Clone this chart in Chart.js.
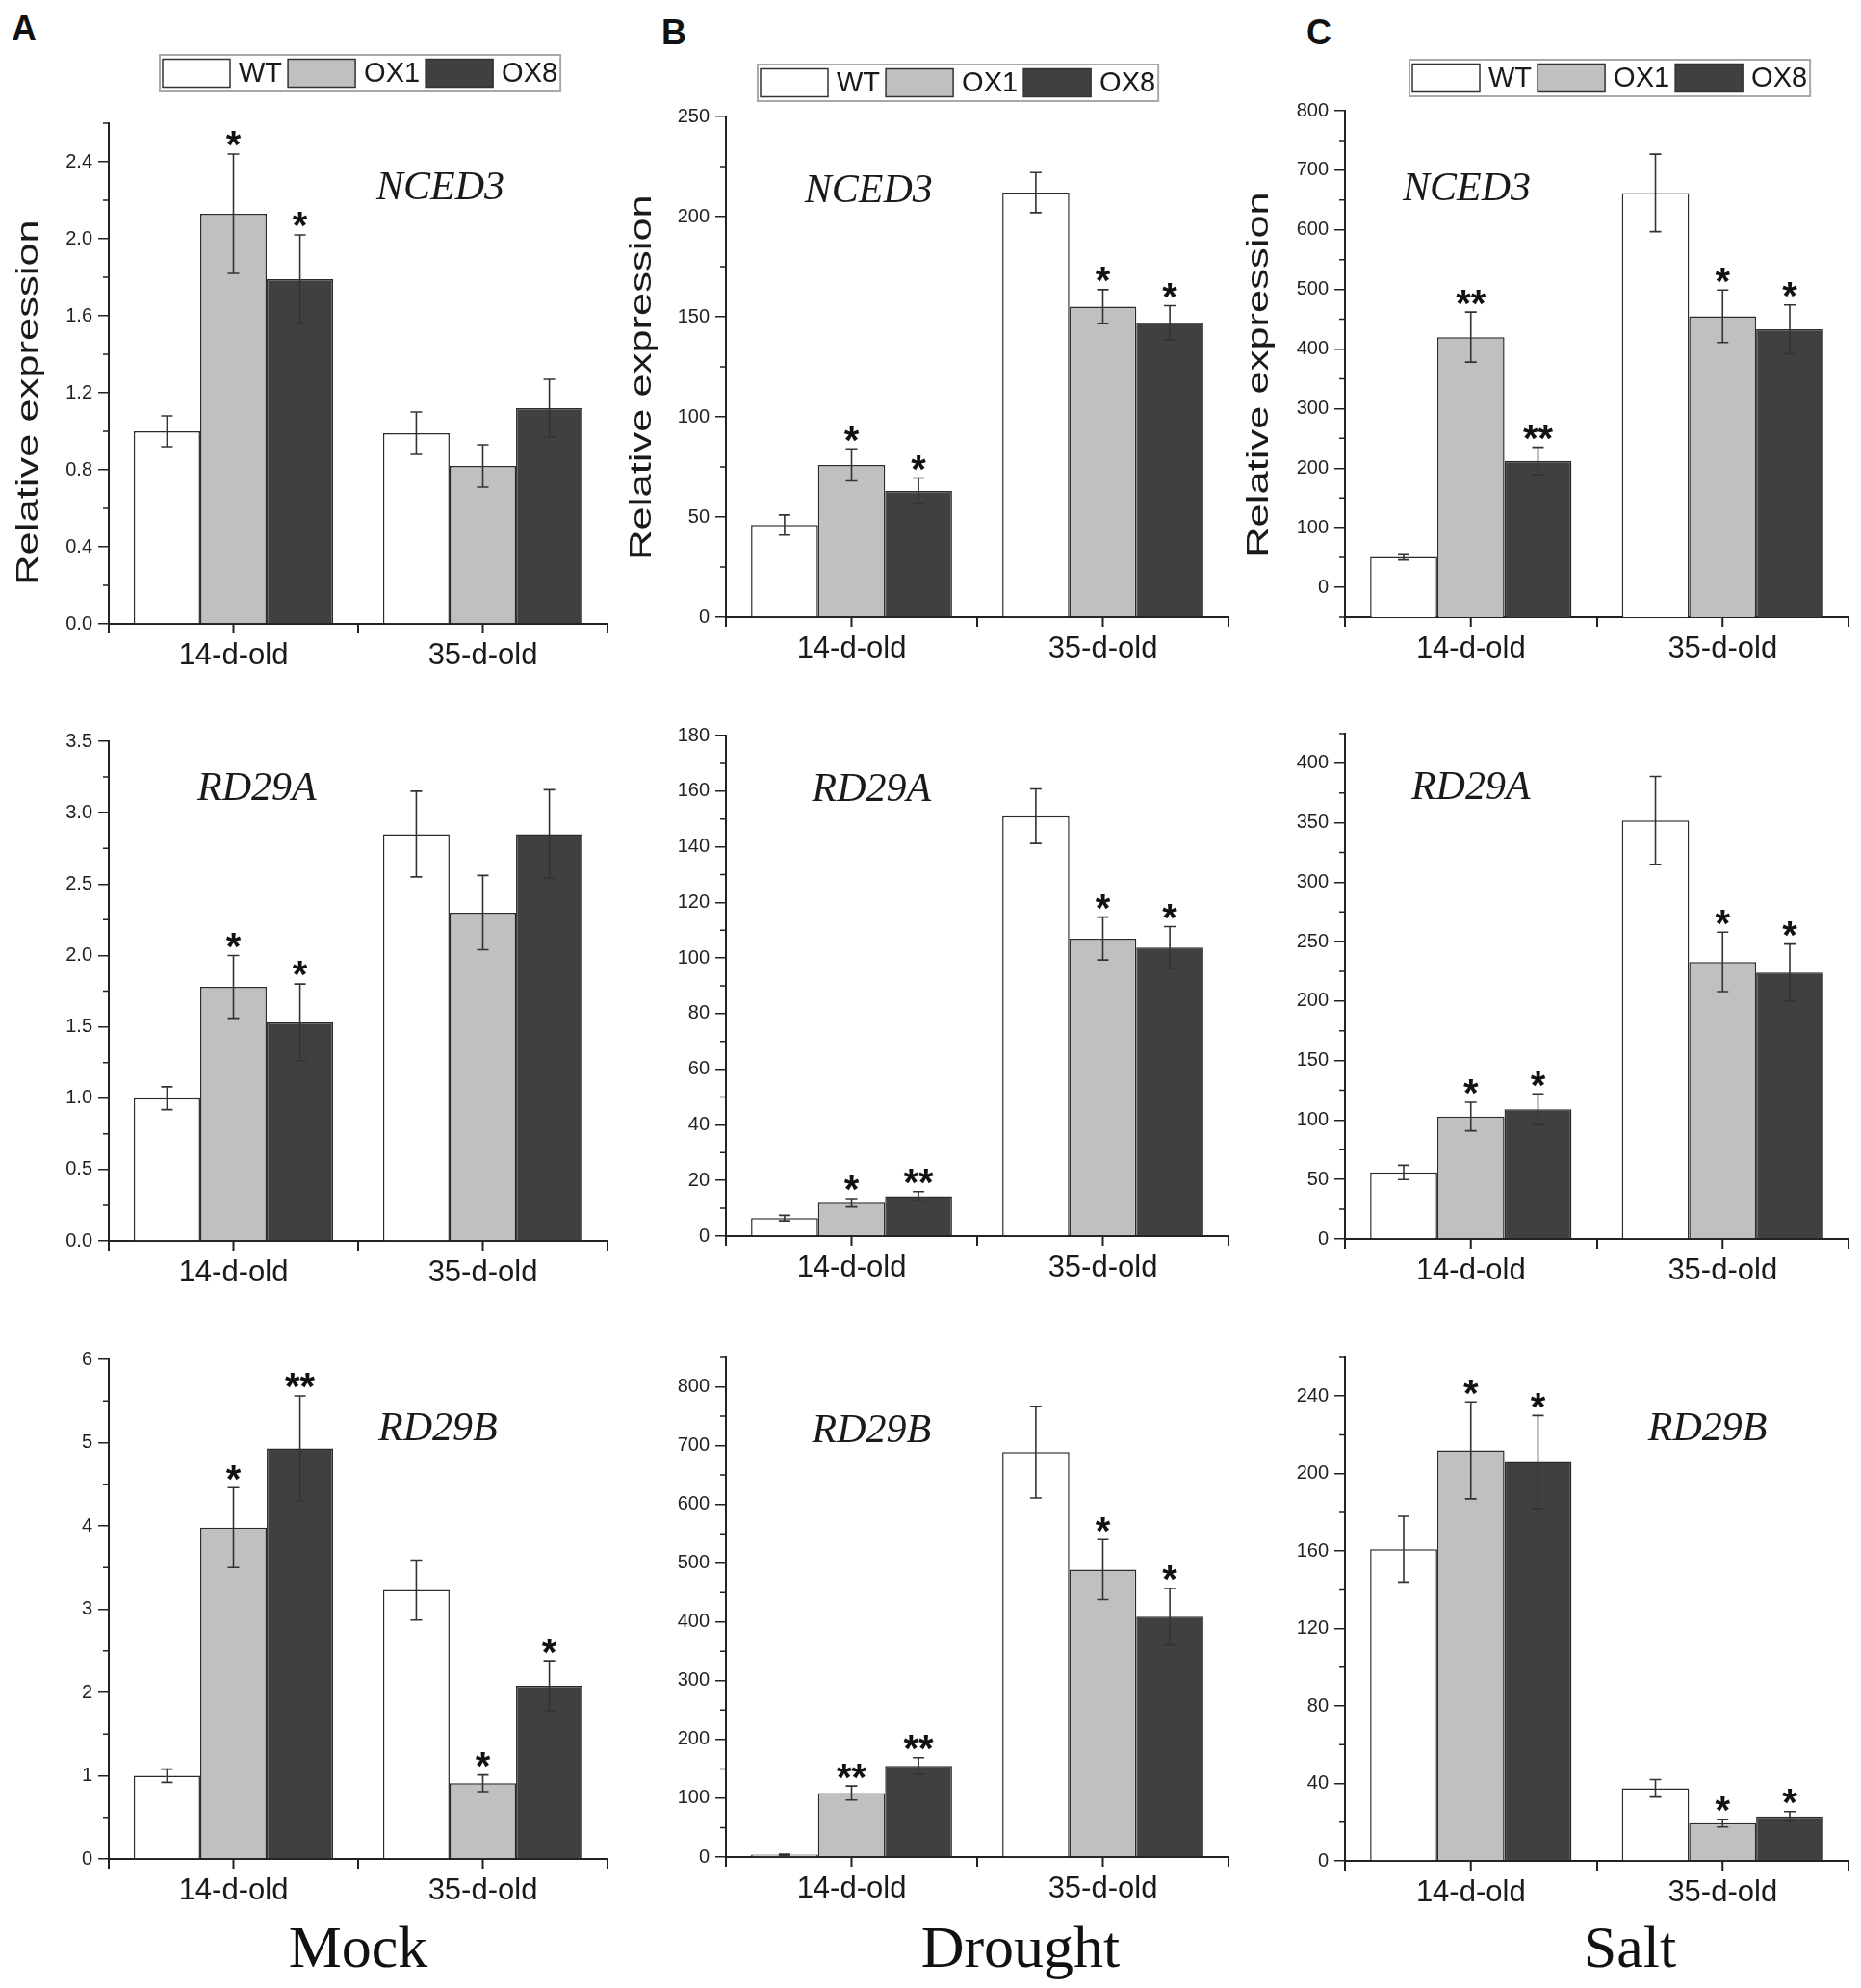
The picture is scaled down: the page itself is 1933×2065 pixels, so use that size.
<!DOCTYPE html>
<html>
<head>
<meta charset="utf-8">
<script src="https://cdn.jsdelivr.net/npm/chart.js@4.4.0/dist/chart.umd.min.js"></script>
<style>
  html, body { margin: 0; padding: 0; background: #fff; }
  #page { position: relative; width: 1933px; height: 2065px; background: #fff; overflow: hidden; }
  canvas { position: absolute; }
  .letter { position: absolute; font: bold 36px "Liberation Sans", Arial, sans-serif; line-height: 1; color: #111; }
  .cond { position: absolute; font: 62px "Liberation Serif", "Times New Roman", serif; line-height: 1; color: #111; transform: translateX(-50%); white-space: nowrap; }
</style>
</head>
<body>
<div id="page">
  <div class="letter" style="left:12px;top:12px">A</div>
  <div class="letter" style="left:687px;top:16px">B</div>
  <div class="letter" style="left:1357px;top:16px">C</div>
  <div class="cond" style="left:372px;top:1991px">Mock</div>
  <div class="cond" style="left:1060px;top:1991px">Drought</div>
  <div class="cond" style="left:1693px;top:1991px">Salt</div>
</div>
<script>
// categories and genotypes shared by all panels
const categories = ['14-d-old', '35-d-old'];
const genotypes = ['WT', 'OX1', 'OX8'];

// values per genotype: [14-d-old, 35-d-old]
// Mock
const mockNced3Mean = [[1.00, 0.99], [2.13, 0.82], [1.79, 1.12]];
const mockNced3Err  = [[0.08, 0.11], [0.31, 0.11], [0.23, 0.15]];
const mockNced3Sig  = [['', ''], ['*', ''], ['*', '']];
const mockNced3Ticks = ['0.0', '0.4', '0.8', '1.2', '1.6', '2.0', '2.4'];

const mockRd29aMean = [[1.00, 2.85], [1.78, 2.30], [1.53, 2.85]];
const mockRd29aErr  = [[0.08, 0.30], [0.22, 0.26], [0.27, 0.31]];
const mockRd29aSig  = [['', ''], ['*', ''], ['*', '']];
const mockRd29aTicks = ['0.0', '0.5', '1.0', '1.5', '2.0', '2.5', '3.0', '3.5'];

const mockRd29bMean = [[1.00, 3.23], [3.98, 0.91], [4.93, 2.08]];
const mockRd29bErr  = [[0.08, 0.36], [0.48, 0.10], [0.63, 0.30]];
const mockRd29bSig  = [['', ''], ['*', '*'], ['**', '*']];
const mockRd29bTicks = ['0', '1', '2', '3', '4', '5', '6'];

// Drought
const droughtNced3Mean = [[46, 212], [76, 155], [63, 147]];
const droughtNced3Err  = [[5, 10], [8, 8.5], [6.5, 8.5]];
const droughtNced3Sig  = [['', ''], ['*', '*'], ['*', '*']];
const droughtNced3Ticks = ['0', '50', '100', '150', '200', '250'];

const droughtRd29aMean = [[6.5, 151], [12, 107], [14.4, 103.8]];
const droughtRd29aErr  = [[1, 9.8], [1.5, 7.7], [1.6, 7.5]];
const droughtRd29aSig  = [['', ''], ['*', '*'], ['**', '*']];
const droughtRd29aTicks = ['0', '20', '40', '60', '80', '100', '120', '140', '160', '180'];

const droughtRd29bMean = [[4, 689], [109, 489], [155, 409]];
const droughtRd29bErr  = [[1, 78], [12, 51], [14, 48]];
const droughtRd29bSig  = [['', ''], ['**', '*'], ['**', '*']];
const droughtRd29bTicks = ['0', '100', '200', '300', '400', '500', '600', '700', '800'];

// Salt
const saltNced3Mean = [[51, 662], [420, 455], [212, 433]];
const saltNced3Err  = [[5, 65], [42, 44], [23, 41]];
const saltNced3Sig  = [['', ''], ['**', '*'], ['**', '*']];
const saltNced3Ticks = ['0', '100', '200', '300', '400', '500', '600', '700', '800'];

const saltRd29aMean = [[56, 352], [103, 233], [109, 224]];
const saltRd29aErr  = [[6, 37], [12, 25], [13, 24]];
const saltRd29aSig  = [['', ''], ['*', '*'], ['*', '*']];
const saltRd29aTicks = ['0', '50', '100', '150', '200', '250', '300', '350', '400'];

const saltRd29bMean = [[161, 37.5], [212, 19.5], [206, 23]];
const saltRd29bErr  = [[17, 4.5], [25, 2], [24, 2.5]];
const saltRd29bSig  = [['', ''], ['*', '*'], ['*', '*']];
const saltRd29bTicks = ['0', '40', '80', '120', '160', '200', '240'];

// panel layout: chart area in page px, axis range, label spots
const panels = [
  { gene: 'NCED3', mean: mockNced3Mean, err: mockNced3Err, sig: mockNced3Sig, ticks: mockNced3Ticks, range: [0, 2.6],
    area: [113, 128, 631, 648], legend: [166, 57], title: [30, 418], genePos: [0.665, 0.13] },
  { gene: 'RD29A', mean: mockRd29aMean, err: mockRd29aErr, sig: mockRd29aSig, ticks: mockRd29aTicks, range: [0, 3.5],
    area: [113, 770, 631, 1289], genePos: [0.297, 0.097] },
  { gene: 'RD29B', mean: mockRd29bMean, err: mockRd29bErr, sig: mockRd29bSig, ticks: mockRd29bTicks, range: [0, 6],
    area: [113, 1412, 631, 1931], genePos: [0.66, 0.14] },
  { gene: 'NCED3', mean: droughtNced3Mean, err: droughtNced3Err, sig: droughtNced3Sig, ticks: droughtNced3Ticks, range: [0, 250],
    area: [754, 121, 1276, 641], legend: [787, 67], title: [667, 392], genePos: [0.284, 0.15] },
  { gene: 'RD29A', mean: droughtRd29aMean, err: droughtRd29aErr, sig: droughtRd29aSig, ticks: droughtRd29aTicks, range: [0, 180],
    area: [754, 764, 1276, 1284], genePos: [0.29, 0.11] },
  { gene: 'RD29B', mean: droughtRd29bMean, err: droughtRd29bErr, sig: droughtRd29bSig, ticks: droughtRd29bTicks, range: [0, 850],
    area: [754, 1410, 1276, 1929], genePos: [0.29, 0.148] },
  { gene: 'NCED3', mean: saltNced3Mean, err: saltNced3Err, sig: saltNced3Sig, ticks: saltNced3Ticks, range: [-50, 800],
    area: [1397, 115, 1920, 641], legend: [1464, 62], title: [1308, 389], genePos: [0.242, 0.156] },
  { gene: 'RD29A', mean: saltRd29aMean, err: saltRd29aErr, sig: saltRd29aSig, ticks: saltRd29aTicks, range: [0, 425],
    area: [1397, 762, 1920, 1287], genePos: [0.25, 0.108] },
  { gene: 'RD29B', mean: saltRd29bMean, err: saltRd29bErr, sig: saltRd29bSig, ticks: saltRd29bTicks, range: [0, 260],
    area: [1397, 1410, 1920, 1933], genePos: [0.72, 0.144] }
];

const SANS = '"Liberation Sans", Arial, sans-serif';
const SERIF = '"Liberation Serif", "Times New Roman", serif';
const barColors = ['#ffffff', '#c0c0c0', '#404040'];
const margin = { left: 113, top: 110, right: 12, bottom: 70 };

Chart.defaults.font.family = SANS;
Chart.defaults.color = '#222';

// error bars, stars, minor ticks, gene names, legend box and y title
const extras = {
  id: 'extras',
  afterDatasetsDraw(chart, args, o) {
    const p = o.panel;
    const ctx = chart.ctx;
    const xs = chart.scales.x, ys = chart.scales.y;
    const ca = chart.chartArea;
    ctx.save();

    chart.data.datasets.forEach((ds, i) => {
      chart.getDatasetMeta(i).data.forEach((bar, j) => {
        const hi = ys.getPixelForValue(ds.data[j] + ds.err[j]);
        const lo = ys.getPixelForValue(ds.data[j] - ds.err[j]);
        ctx.strokeStyle = '#333';
        ctx.lineWidth = 1.6;
        ctx.beginPath();
        ctx.moveTo(bar.x, hi); ctx.lineTo(bar.x, lo);
        ctx.moveTo(bar.x - 6, hi); ctx.lineTo(bar.x + 6, hi);
        ctx.moveTo(bar.x - 6, lo); ctx.lineTo(bar.x + 6, lo);
        ctx.stroke();
        if (ds.sig[j]) {
          ctx.font = 'bold 40px ' + SANS;
          ctx.fillStyle = '#111';
          ctx.textAlign = 'center';
          ctx.textBaseline = 'alphabetic';
          ctx.fillText(ds.sig[j], bar.x, hi - 12 + 0.41 * 40);
        }
      });
    });

    // minor ticks halfway between the labelled ones
    const vals = p.ticks.map(Number);
    const half = (vals[1] - vals[0]) / 2;
    const minors = vals.map(v => v - half).concat([vals[vals.length - 1] + half])
      .filter(v => v >= p.range[0] - 1e-9 && v <= p.range[1] + 1e-9);
    ctx.strokeStyle = '#222';
    ctx.lineWidth = 1.5;
    ctx.beginPath();
    minors.forEach(v => {
      const y = ys.getPixelForValue(v);
      ctx.moveTo(ca.left, y); ctx.lineTo(ca.left - 6, y);
    });
    ctx.stroke();

    // ticks under each category centre
    ctx.lineWidth = 2;
    ctx.beginPath();
    categories.forEach((c, i) => {
      const x = xs.getPixelForValue(i);
      ctx.moveTo(x, ca.bottom); ctx.lineTo(x, ca.bottom + 10);
    });
    ctx.stroke();

    // gene name
    ctx.font = 'italic 42px ' + SERIF;
    ctx.fillStyle = '#1a1a1a';
    ctx.textAlign = 'center';
    ctx.textBaseline = 'middle';
    ctx.fillText(p.gene, ca.left + p.genePos[0] * ca.width, ca.top + p.genePos[1] * ca.height);

    // legend box (top row only)
    if (p.legend) {
      const lx = p.legend[0] - o.offX, ly = p.legend[1] - o.offY, lh = 38;
      ctx.font = '29px ' + SANS;
      const widths = chart.data.datasets.map(ds => ctx.measureText(ds.label).width);
      const total = 6 + widths.reduce((a, b) => a + b, 0) + 3 * 79 + 2 * 6;
      ctx.fillStyle = '#fff';
      ctx.fillRect(lx, ly, total, lh);
      ctx.strokeStyle = '#a8a8a8';
      ctx.lineWidth = 2;
      ctx.strokeRect(lx, ly, total, lh);
      let x = lx + 3;
      chart.data.datasets.forEach((ds, i) => {
        ctx.fillStyle = ds.backgroundColor;
        ctx.fillRect(x, ly + 4.5, 70, 29);
        ctx.strokeStyle = '#333';
        ctx.lineWidth = 1.5;
        ctx.strokeRect(x, ly + 4.5, 70, 29);
        ctx.fillStyle = '#1a1a1a';
        ctx.textAlign = 'left';
        ctx.textBaseline = 'middle';
        ctx.fillText(ds.label, x + 79, ly + lh / 2 + 1);
        x += 79 + widths[i] + 6;
      });
    }

    // y axis title, drawn narrow and long like the original
    if (p.title) {
      ctx.translate(p.title[0] - o.offX, p.title[1] - o.offY);
      ctx.rotate(-Math.PI / 2);
      ctx.scale(1.45, 1.05);
      ctx.font = '30px ' + SANS;
      ctx.fillStyle = '#1a1a1a';
      ctx.textAlign = 'center';
      ctx.textBaseline = 'middle';
      ctx.fillText('Relative expression', 0, 0);
    }
    ctx.restore();
  }
};

const page = document.getElementById('page');

panels.forEach(p => {
  const [l, t, r, b] = p.area;
  const w = r - l + margin.left + margin.right;
  const h = b - t + margin.top + margin.bottom;
  const offX = l - margin.left, offY = t - margin.top;
  const cv = document.createElement('canvas');
  cv.width = w; cv.height = h;
  cv.style.left = offX + 'px';
  cv.style.top = offY + 'px';
  cv.style.width = w + 'px';
  cv.style.height = h + 'px';
  page.appendChild(cv);
  const tickVals = p.ticks.map(Number);

  new Chart(cv, {
    type: 'bar',
    data: {
      labels: categories,
      datasets: genotypes.map((g, i) => ({
        label: g,
        data: p.mean[i],
        err: p.err[i],
        sig: p.sig[i],
        base: p.range[0],
        backgroundColor: barColors[i],
        borderColor: '#2b2b2b',
        borderWidth: 1.5,
        barPercentage: 1,
        categoryPercentage: 0.8
      }))
    },
    options: {
      responsive: false,
      animation: false,
      devicePixelRatio: 1,
      layout: { padding: { left: margin.left - 90, right: margin.right, top: margin.top, bottom: margin.bottom - 60 } },
      plugins: {
        legend: { display: false },
        tooltip: { enabled: false },
        extras: { panel: p, offX: offX, offY: offY }
      },
      scales: {
        x: {
          grid: { offset: true, drawOnChartArea: false, tickLength: 10, color: '#222', lineWidth: 2 },
          border: { color: '#222', width: 2 },
          ticks: { font: { size: 31 }, color: '#1a1a1a', padding: 5 },
          afterFit: s => { s.height = 60; }
        },
        y: {
          min: p.range[0],
          max: p.range[1],
          grid: { drawOnChartArea: false, tickLength: 11, color: '#222', lineWidth: 1.5 },
          border: { color: '#222', width: 2 },
          ticks: { font: { size: 20 }, color: '#222', padding: 6, callback: (v, i) => p.ticks[i] },
          afterBuildTicks: s => { s.ticks = tickVals.map(v => ({ value: v })); },
          afterFit: s => { s.width = 90; }
        }
      }
    },
    plugins: [extras]
  });
});
</script>
</body>
</html>
